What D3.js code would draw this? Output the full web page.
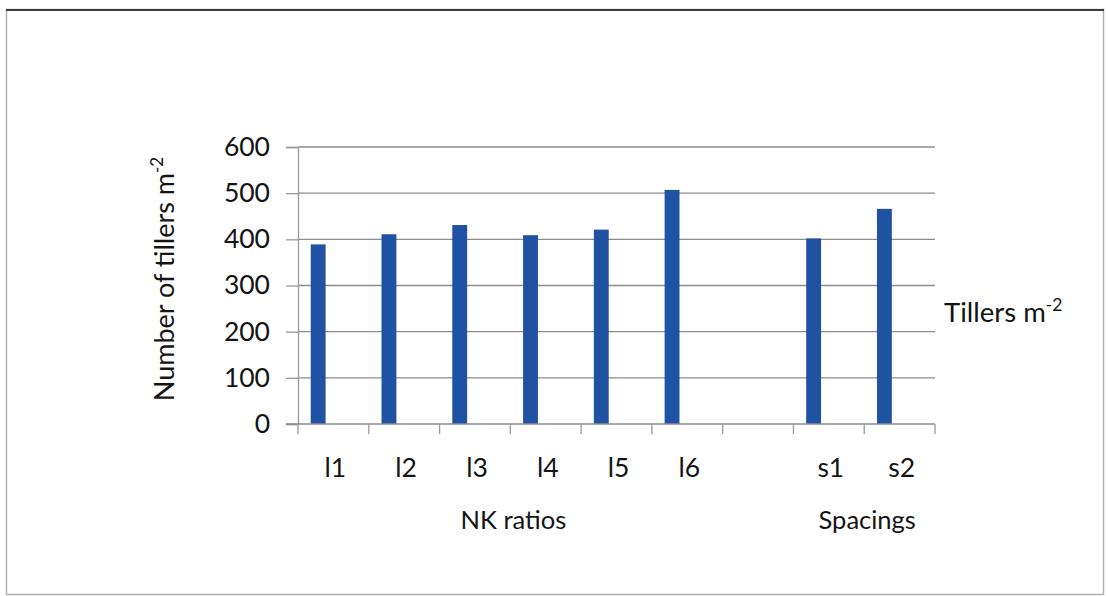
<!DOCTYPE html>
<html>
<head>
<meta charset="utf-8">
<script src="https://cdn.jsdelivr.net/npm/d3@7/dist/d3.min.js"></script>
<style>
  html, body { margin: 0; padding: 0; background: #fff; }
  svg { display: block; }
  text { font-family: Lato, "Open Sans", sans-serif; fill: #141414; }
</style>
</head>
<body>
<svg id="chart" width="1108" height="596"></svg>
<script>
// Tillers per square metre by treatment
const categories = ["l1", "l2", "l3", "l4", "l5", "l6", "", "s1", "s2"];
const tillers = [389, 411, 431, 409, 421, 507, null, 402, 466];
const yTicks = [0, 100, 200, 300, 400, 500, 600];
const groupNames = ["NK ratios", "Spacings"];
const groupMembers = [["l1", "l2", "l3", "l4", "l5", "l6"], ["s1", "s2"]];
const seriesName = "Tillers m";
const yTitle = "Number of tillers m";

const W = 1108, H = 596;
const plot = { left: 298, right: 935, top: 147, bottom: 424 };

const svg = d3.select("#chart");

// outer frame
svg.append("rect")
  .attr("x", 6.5).attr("y", 9.5)
  .attr("width", 1097).attr("height", 585)
  .attr("fill", "#fff")
  .attr("stroke", "#b0b0b0").attr("stroke-width", 1.5);
svg.append("line")
  .attr("x1", 6).attr("x2", 1104)
  .attr("y1", 10).attr("y2", 10)
  .attr("stroke", "#3a3a3a").attr("stroke-width", 2.2);

const x = d3.scaleBand()
  .domain(categories)
  .range([plot.left, plot.right])
  .paddingInner(0).paddingOuter(0);

const y = d3.scaleLinear()
  .domain([0, 600])
  .range([plot.bottom, plot.top]);

// horizontal gridlines
svg.append("g")
  .selectAll("line")
  .data(yTicks.filter(v => v > 0))
  .join("line")
  .attr("x1", plot.left).attr("x2", plot.right)
  .attr("y1", d => y(d)).attr("y2", d => y(d))
  .attr("stroke", "#8c8c8c").attr("stroke-width", 1.3);

// y axis
const yAxis = svg.append("g")
  .attr("transform", `translate(${plot.left},0)`)
  .call(d3.axisLeft(y).tickValues(yTicks).tickSize(12).tickPadding(16));
yAxis.select(".domain").attr("stroke", "#9a9a9a").attr("stroke-width", 1.3);
yAxis.selectAll(".tick line").attr("stroke", "#9a9a9a").attr("stroke-width", 1.3);
yAxis.selectAll(".tick text")
  .attr("font-size", 26.5)
  .attr("font-family", "Lato, sans-serif")
  .attr("fill", "#141414");

// bars
const bw = x.bandwidth();
svg.append("g")
  .selectAll("rect")
  .data(categories.map((c, i) => ({ c, v: tillers[i] })).filter(d => d.v != null))
  .join("rect")
  .attr("x", d => x(d.c) + bw * 0.18)
  .attr("width", bw * 0.21)
  .attr("y", d => y(d.v))
  .attr("height", d => y(0) - y(d.v))
  .attr("fill", "#1f52a3");

// x axis: baseline, boundary ticks, category labels
const xg = svg.append("g");
xg.append("line")
  .attr("x1", plot.left - 12).attr("x2", plot.right)
  .attr("y1", y(0)).attr("y2", y(0))
  .attr("stroke", "#8c8c8c").attr("stroke-width", 1.3);
const bounds = categories.map(c => x(c)).concat([x.range()[1]]);
xg.selectAll("line.bound")
  .data(bounds)
  .join("line")
  .attr("class", "bound")
  .attr("x1", d => d).attr("x2", d => d)
  .attr("y1", y(0)).attr("y2", y(0) + 10)
  .attr("stroke", "#9a9a9a").attr("stroke-width", 1.3);
xg.selectAll("text.cat")
  .data(categories)
  .join("text")
  .attr("class", "cat")
  .attr("x", d => x(d) + bw / 2 + 2)
  .attr("y", y(0) + 53)
  .attr("text-anchor", "middle")
  .attr("font-size", 26.5)
  .text(d => d);

// group labels under category labels
xg.selectAll("text.group")
  .data(groupNames.map((g, i) => ({ g, m: groupMembers[i] })))
  .join("text")
  .attr("class", "group")
  .attr("x", d => {
    const xs = d.m.map(c => x(c) + bw / 2);
    return (d3.min(xs) + d3.max(xs)) / 2 + 3;
  })
  .attr("y", y(0) + 105)
  .attr("text-anchor", "middle")
  .attr("font-size", 25.5)
  .text(d => d.g);

// y axis title
const yt = svg.append("text")
  .attr("transform", `translate(174, 279) rotate(-90)`)
  .attr("text-anchor", "middle")
  .attr("font-size", 27);
yt.append("tspan").text(yTitle);
yt.append("tspan").attr("dy", -11).attr("font-size", 17).text("-2");

// series legend
const lg = svg.append("text")
  .attr("x", 944).attr("y", 322)
  .attr("font-size", 27.5);
lg.append("tspan").text(seriesName);
lg.append("tspan").attr("dy", -11).attr("font-size", 17.5).text("-2");
</script>
</body>
</html>
